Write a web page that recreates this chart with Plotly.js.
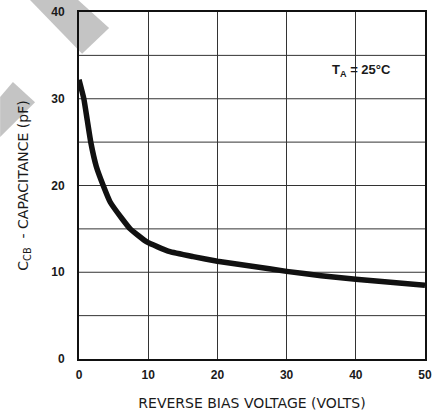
<!DOCTYPE html>
<html><head><meta charset="utf-8">
<script src="https://cdn.plot.ly/plotly-3.0.1.min.js"></script>
<style>html,body{margin:0;padding:0;background:#fff}#c{width:445px;height:414px}</style>
</head><body><div id="c"></div>
<script>
const voltage = [0, 0.7, 1.2, 1.7, 2.5, 3.5, 4.5, 6.2, 7.4, 9.8, 13, 16.5, 20, 25, 30, 35, 40, 45, 50];
const capacitance = [32.2, 30, 27.5, 25, 22.2, 20, 18.1, 16.2, 15, 13.5, 12.4, 11.8, 11.27, 10.7, 10.1, 9.6, 9.2, 8.85, 8.5];
const xTicks = [0, 10, 20, 30, 40, 50];
const yTicks = [0, 10, 20, 30, 40];
const xTitle = "REVERSE BIAS VOLTAGE (VOLTS)";
const yTitle = "C<sub>CB</sub>  - CAPACITANCE (pF)";
const noteText = "T<sub>A</sub> = 25°C";

const fam = "Liberation Sans, Arial, sans-serif";
const titleFam = "DejaVu Sans, sans-serif";
const ink = "#1a1a1a";

const trace = {
  x: voltage, y: capacitance, mode: "lines", type: "scatter",
  line: {color: "#111", width: 5.5, shape: "spline", smoothing: 0.4},
  hoverinfo: "skip"
};

const gridY = [5, 10, 15, 20, 25, 30, 35];

const layout = {
  width: 445, height: 414,
  margin: {l: 79, r: 20, t: 12, b: 55},
  paper_bgcolor: "#fff", plot_bgcolor: "rgba(0,0,0,0)",
  showlegend: false,
  font: {family: fam, size: 12, color: ink},
  xaxis: {
    range: [0, 50], tickvals: xTicks, ticktext: xTicks.map(String),
    showgrid: true, gridcolor: "#333", gridwidth: 1,
    showline: true, linecolor: "#111", linewidth: 2, mirror: true,
    zeroline: false, ticks: "outside", ticklen: 4, tickcolor: "rgba(0,0,0,0)",
    tickfont: {family: fam, size: 12, color: ink, weight: "bold"},
    title: {text: xTitle, font: {family: titleFam, size: 14, color: ink}, standoff: 17},
    automargin: false, fixedrange: true
  },
  yaxis: {
    range: [0, 40], tickvals: yTicks, ticktext: yTicks.map(String),
    showgrid: false,
    showline: true, linecolor: "#111", linewidth: 2, mirror: true,
    zeroline: false, ticks: "outside", ticklen: 10, tickcolor: "rgba(0,0,0,0)",
    tickfont: {family: fam, size: 12, color: ink, weight: "bold"},
    title: {text: yTitle, font: {family: titleFam, size: 14, color: ink}, standoff: 19},
    automargin: false, fixedrange: true
  },
  shapes: [
    {type: "path", xref: "paper", yref: "paper", layer: "below",
     path: "M -0.142 1.035 L -0.003 1.035 L 0.087 0.954 L 0.009 0.880 Z",
     fillcolor: "#c4c4c4", line: {width: 0}},
    {type: "path", xref: "paper", yref: "paper", layer: "below",
     path: "M -0.191 0.798 L -0.127 0.740 L -0.228 0.640 L -0.228 0.755 Z",
     fillcolor: "#c4c4c4", line: {width: 0}}
  ].concat(gridY.map(v => ({
    type: "line", xref: "paper", yref: "y", x0: 0, x1: 1, y0: v, y1: v,
    layer: "below", line: {color: "#333", width: 1}
  }))),
  annotations: [
    {x: 40.8, y: 33.3, xref: "x", yref: "y", text: noteText, showarrow: false,
     font: {family: fam, size: 13, color: ink, weight: "bold"}}
  ]
};

Plotly.newPlot("c", [trace], layout, {displayModeBar: false, staticPlot: true});
</script></body></html>
